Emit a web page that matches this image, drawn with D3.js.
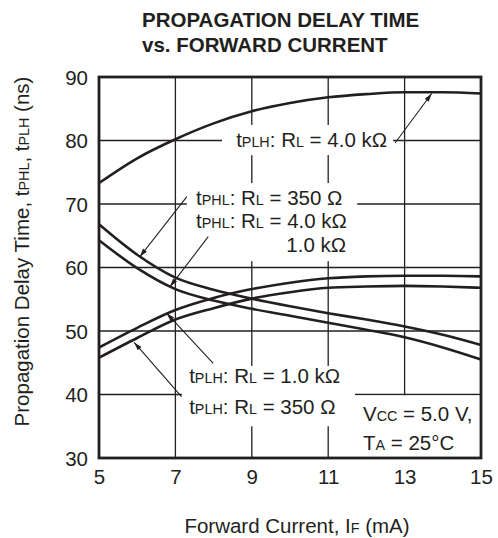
<!DOCTYPE html>
<html>
<head>
<meta charset="utf-8">
<script src="https://cdn.jsdelivr.net/npm/d3@7"></script>
<style>
  html, body { margin: 0; padding: 0; background: #fff; }
  svg { display: block; }
  text { font-family: "Liberation Sans", Arial, Helvetica, sans-serif; fill: #231f20; }
</style>
</head>
<body>
<svg id="chart" width="498" height="538"></svg>
<script>
// ---- data ----
const forwardCurrent = [5, 6, 7, 8, 9, 10, 11, 12, 13, 14, 15];
const tPLH_4k  = [73.3, 77.2, 80.2, 82.7, 84.6, 85.9, 86.8, 87.3, 87.6, 87.6, 87.4];
const tPLH_1k  = [47.4, 50.5, 53.3, 55.2, 56.6, 57.6, 58.3, 58.6, 58.7, 58.7, 58.6];
const tPLH_350 = [45.8, 48.9, 51.8, 53.6, 55.1, 56.1, 56.8, 57.0, 57.1, 57.0, 56.8];
const tPHL_350 = [66.8, 62.0, 58.4, 56.5, 55.1, 53.9, 52.8, 51.8, 50.7, 49.4, 47.8];
const tPHL_4k  = [64.3, 59.9, 56.6, 54.8, 53.5, 52.4, 51.3, 50.2, 49.0, 47.4, 45.5];
const xTicks = [5, 7, 9, 11, 13, 15];
const yTicks = [30, 40, 50, 60, 70, 80, 90];
const titleLines = ["PROPAGATION DELAY TIME", "vs. FORWARD CURRENT"];
const xTitle = "Forward Current, I_{F} (mA)";
const yTitle = "Propagation Delay Time, t_{PHL}, t_{PLH} (ns)";
// annotation labels: text, anchor point in data units (x, y)
const labels = [
  {t: "t_{PLH}: R_{L} = 4.0 kΩ", x: 8.59, y: 78.93, a: "start"},
  {t: "t_{PHL}: R_{L} = 350 Ω",  x: 7.54, y: 69.9, a: "start"},
  {t: "t_{PHL}: R_{L} = 4.0 kΩ", x: 7.54, y: 66.2, a: "start"},
  {t: "1.0 kΩ",                  x: 11.47, y: 62.5, a: "end"},
  {t: "t_{PLH}: R_{L} = 1.0 kΩ", x: 7.36, y: 41.8, a: "start"},
  {t: "t_{PLH}: R_{L} = 350 Ω",  x: 7.36, y: 36.9, a: "start"},
  {t: "V_{CC} = 5.0 V,",          x: 11.91, y: 35.75, a: "start"},
  {t: "T_{A} = 25°C",             x: 11.91, y: 31.3, a: "start"}
];
// leader arrows: tail (x1,y1) -> tip (x2,y2), data units
const arrows = [
  {x1: 12.75, y1: 79.6, x2: 13.71, y2: 87.4},
  {x1: 7.30, y1: 71.15, x2: 6.07, y2: 61.7},
  {x1: 7.86, y1: 64.85, x2: 6.86, y2: 57.0},
  {x1: 7.99, y1: 44.9, x2: 6.77, y2: 52.8},
  {x1: 7.16, y1: 39.65, x2: 5.92, y2: 48.2}
];
// label background boxes (mask the grid), data units
const boxes = [
  {x0: 8.22, x1: 12.70, y0: 77.7, y1: 82.45},
  {x0: 7.30, x1: 11.76, y0: 61.0, y1: 73.3},
  {x0: 7.17, x1: 11.70, y0: 35.0, y1: 44.5},
  {x0: 11.70, x1: 15.0, y0: 30.0, y1: 39.85}
];

// ---- layout ----
const svg = d3.select("#chart");
const L = 99, R = 481, T = 77, B = 458;
const x = d3.scaleLinear().domain([5, 15]).range([L, R]);
const y = d3.scaleLinear().domain([30, 90]).range([B, T]);
const ink = "#231f20";
const FS = 20.5;

function richText(sel, str, size) {
  const re = /_\{([^}]*)\}/g;
  let last = 0, m;
  while ((m = re.exec(str)) !== null) {
    if (m.index > last) sel.append("tspan").attr("font-size", size).text(str.slice(last, m.index));
    sel.append("tspan").attr("font-size", size * 0.7).text(m[1]);
    last = re.lastIndex;
  }
  if (last < str.length) sel.append("tspan").attr("font-size", size).text(str.slice(last));
}

// grid
const grid = svg.append("g").attr("stroke", ink).attr("stroke-width", 1.3);
grid.selectAll("line.v").data(xTicks.slice(1, -1)).join("line")
  .attr("x1", d => x(d)).attr("x2", d => x(d)).attr("y1", T).attr("y2", B);
grid.selectAll("line.h").data(yTicks.slice(1, -1)).join("line")
  .attr("x1", L).attr("x2", R).attr("y1", d => y(d)).attr("y2", d => y(d));

// white boxes behind labels
svg.append("g").selectAll("rect").data(boxes).join("rect")
  .attr("x", d => x(d.x0)).attr("width", d => x(d.x1) - x(d.x0))
  .attr("y", d => y(d.y1)).attr("height", d => y(d.y0) - y(d.y1))
  .attr("fill", "#fff");

// curves
const series = [tPLH_4k, tPLH_1k, tPLH_350, tPHL_350, tPHL_4k];
const line = d3.line().x((d, i) => x(forwardCurrent[i])).y(d => y(d)).curve(d3.curveMonotoneX);
svg.append("g").selectAll("path").data(series).join("path")
  .attr("d", d => line(d)).attr("fill", "none").attr("stroke", ink).attr("stroke-width", 2.6);

// frame
svg.append("rect").attr("x", L).attr("y", T).attr("width", R - L).attr("height", B - T)
  .attr("fill", "none").attr("stroke", ink).attr("stroke-width", 2.8);

// axes tick labels
const xAxis = d3.axisBottom(x).tickValues(xTicks).tickSize(0).tickPadding(0).tickFormat(d3.format("d"));
const gx = svg.append("g").attr("transform", `translate(0,${B})`).call(xAxis);
gx.select(".domain").remove();
gx.selectAll("text").attr("font-size", FS).attr("dy", null).attr("y", 26)
  .attr("font-family", "Liberation Sans, Arial, sans-serif").attr("fill", ink);
const yAxis = d3.axisLeft(y).tickValues(yTicks).tickSize(0).tickPadding(11).tickFormat(d3.format("d"));
const gy = svg.append("g").attr("transform", `translate(${L},0)`).call(yAxis);
gy.select(".domain").remove();
gy.selectAll("text").attr("font-size", FS).attr("dy", "0.36em")
  .attr("font-family", "Liberation Sans, Arial, sans-serif").attr("fill", ink);

// title
svg.append("g").selectAll("text").data(titleLines).join("text")
  .attr("x", 142).attr("y", (d, i) => 26.5 + i * 25)
  .attr("font-size", FS).attr("font-weight", "bold").text(d => d);

// axis titles
richText(svg.append("text").attr("x", (L + R) / 2 + 7).attr("y", 533).attr("text-anchor", "middle"), xTitle, FS);
richText(svg.append("text").attr("transform", `translate(28.5,251.5) rotate(-90)`).attr("text-anchor", "middle"), yTitle, FS);

// labels
labels.forEach(d => {
  richText(svg.append("text").attr("x", x(d.x)).attr("y", y(d.y)).attr("text-anchor", d.a), d.t, FS);
});

// arrows
const defs = svg.append("defs");
defs.append("marker").attr("id", "ah").attr("viewBox", "0 0 10 6").attr("refX", 10).attr("refY", 3)
  .attr("markerWidth", 11).attr("markerHeight", 5).attr("markerUnits", "userSpaceOnUse").attr("orient", "auto")
  .append("path").attr("d", "M0,0 L10,3 L0,6 Z").attr("fill", ink);
svg.append("g").selectAll("line").data(arrows).join("line")
  .attr("x1", d => x(d.x1)).attr("y1", d => y(d.y1))
  .attr("x2", d => x(d.x2)).attr("y2", d => y(d.y2))
  .attr("stroke", ink).attr("stroke-width", 1.1).attr("marker-end", "url(#ah)");
</script>
</body>
</html>
